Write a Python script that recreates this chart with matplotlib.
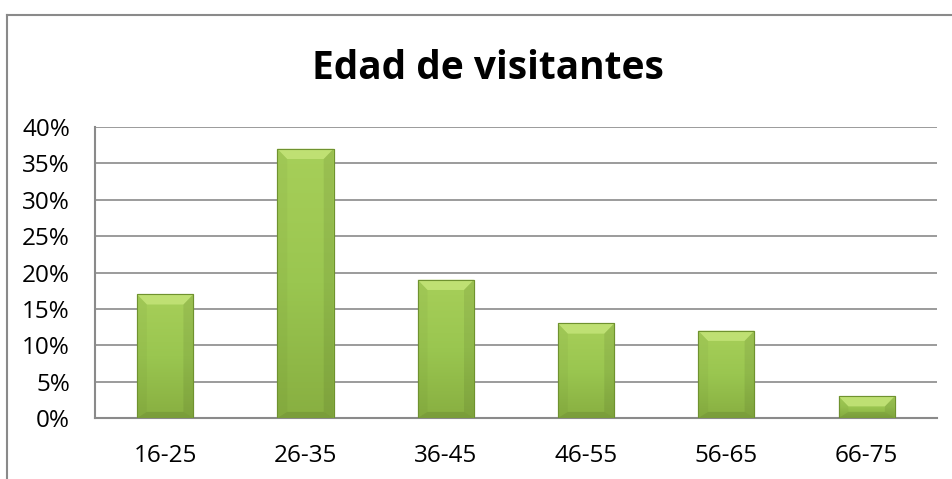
import numpy as np
import matplotlib
matplotlib.use("Agg")
import matplotlib.pyplot as plt
from matplotlib.patches import Polygon
from matplotlib.lines import Line2D
from matplotlib.ticker import FuncFormatter, MultipleLocator
from matplotlib.colors import LinearSegmentedColormap

categories = ['16-25', '26-35', '36-45', '46-55', '56-65', '66-75']
values = [17, 37, 19, 13, 12, 3]

plt.rcParams['font.family'] = ['Open Sans', 'DejaVu Sans']

fig = plt.figure(figsize=(9.53, 4.79), dpi=100)
ax = fig.add_axes([0.0997, 0.1273, 0.8833, 0.6076])

x = np.arange(len(categories))
bars = ax.bar(x, values, width=0.4, color='#95c04b', edgecolor='#6f922f', linewidth=0.8, zorder=2)

# vertical gradient: darker at the bottom, lighter at the top
cmap = LinearSegmentedColormap.from_list('g', ['#88af41', '#9ac650', '#a7cf59'])
grad = np.linspace(0, 1, 256).reshape(-1, 1)
dx, dy = 0.07, 1.4
for b in bars:
    x0, y0, w, h = b.get_x(), b.get_y(), b.get_width(), b.get_height()
    im = ax.imshow(grad, cmap=cmap, aspect='auto', origin='lower',
                   extent=(x0, x0 + w, y0, y0 + h), zorder=3)
    im.set_clip_path(b)
    d = min(dy, h / 2)
    # top bevel (light)
    ax.add_patch(Polygon([(x0, h), (x0 + w, h), (x0 + w - dx, h - d), (x0 + dx, h - d)],
                         closed=True, facecolor='#c2e377', alpha=0.9, edgecolor='none', zorder=4))
    # side bevels
    ax.add_patch(Polygon([(x0, y0), (x0, h), (x0 + dx, h - d), (x0 + dx, y0 + d * 0.6)],
                         closed=True, facecolor='black', alpha=0.03, edgecolor='none', zorder=4))
    ax.add_patch(Polygon([(x0 + w, y0), (x0 + w, h), (x0 + w - dx, h - d), (x0 + w - dx, y0 + d * 0.6)],
                         closed=True, facecolor='black', alpha=0.07, edgecolor='none', zorder=4))
    ax.add_patch(Polygon([(x0, y0), (x0 + w, y0), (x0 + w - dx, y0 + d * 0.6), (x0 + dx, y0 + d * 0.6)],
                         closed=True, facecolor='black', alpha=0.1, edgecolor='none', zorder=4))
    # thin outline on top
    ax.add_patch(Polygon([(x0, y0), (x0, h), (x0 + w, h), (x0 + w, y0)], closed=True,
                         facecolor='none', edgecolor='#6f922f', linewidth=0.8, zorder=5))

ax.set_xlim(-0.5, len(categories) - 0.5)
ax.set_ylim(0, 40)
ax.yaxis.set_major_locator(MultipleLocator(5))
ax.yaxis.set_major_formatter(FuncFormatter(lambda v, p: '%d%%' % v))
ax.set_xticks(x)
ax.set_xticklabels(categories)
ax.tick_params(axis='both', length=0, labelsize=17.5, colors='black')
ax.tick_params(axis='y', pad=18)
ax.tick_params(axis='x', pad=19)
ax.grid(axis='y', color='#8a8a8a', linewidth=1.2, zorder=1)
ax.set_axisbelow(True)
for s in ['top', 'right']:
    ax.spines[s].set_visible(False)
for s in ['left', 'bottom']:
    ax.spines[s].set_color('#8a8a8a')
    ax.spines[s].set_linewidth(1.5)

fig.text(0.5115, 1 - 79 / 479, 'Edad de visitantes', ha='center', va='baseline', fontsize=28, fontweight='bold')

# outer chart frame (cropped at right and bottom)
fig.add_artist(Line2D([7 / 953, 7 / 953], [0, 1 - 15 / 479], transform=fig.transFigure, color='#8a8a8a', linewidth=1.5))
fig.add_artist(Line2D([7 / 953, 1], [1 - 15 / 479, 1 - 15 / 479], transform=fig.transFigure, color='#8a8a8a', linewidth=1.5))

fig.savefig('out.png', dpi=100)
